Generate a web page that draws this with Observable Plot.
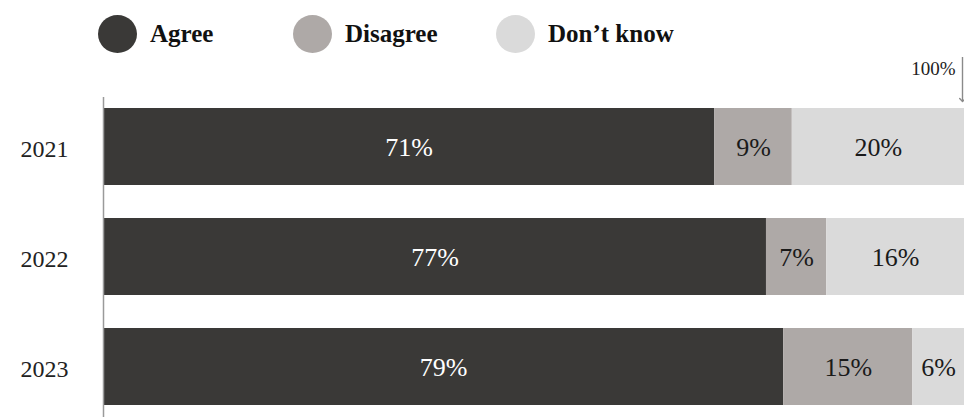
<!DOCTYPE html>
<html>
<head>
<meta charset="utf-8">
<script src="https://cdn.jsdelivr.net/npm/d3@7"></script>
<script src="https://cdn.jsdelivr.net/npm/@observablehq/plot@0.6"></script>
<style>
  body { margin: 0; background: #fff; font-family: "Liberation Serif", serif; }
  #legend { position: relative; width: 964px; height: 55px; }
  .item { position: absolute; top: 15px; height: 38px; display: flex; align-items: center; }
  .dot { width: 39px; height: 38px; border-radius: 50%; margin-right: 13px; }
  .lab { font-weight: bold; font-size: 25px; color: #111; }
</style>
</head>
<body>
<div id="legend"></div>
<div id="chart"></div>
<script>
const years = ["2021", "2022", "2023"];
const categories = ["Agree", "Disagree", "Don\u2019t know"];
const agree = [71, 77, 79];
const disagree = [9, 7, 15];
const dontKnow = [20, 16, 6];
const colors = ["#3a3937", "#aea9a7", "#dadada"];

const series = [agree, disagree, dontKnow];
const data = [];
years.forEach((y, i) => {
  categories.forEach((c, j) => data.push({year: y, category: c, value: series[j][i]}));
});

const legend = document.getElementById("legend");
const legendX = [98, 293, 496];
categories.forEach((c, j) => {
  const it = document.createElement("div");
  it.className = "item";
  it.style.left = legendX[j] + "px";
  it.innerHTML = `<div class="dot" style="background:${colors[j]}"></div><span class="lab">${c}</span>`;
  legend.appendChild(it);
});

const font = "Liberation Serif";
const chart = Plot.plot({
  width: 964,
  height: 362,
  marginLeft: 103,
  marginRight: 0,
  marginTop: 52,
  marginBottom: 10,
  style: {fontFamily: font, background: "#fff"},
  x: {domain: [0, 100], axis: null},
  y: {domain: years, paddingInner: 0.297, paddingOuter: 0, label: null},
  color: {domain: categories, range: colors},
  marks: [
    Plot.barX(data, Plot.stackX({x: "value", y: "year", fill: "category", order: categories})),
    Plot.text(data.filter(d => d.category === "Agree"), Plot.stackX({
      x: "value", y: "year", z: "category", order: categories,
      text: d => d.value + "%", fill: "white", fontSize: 26, fontFamily: font, dy: 1
    })),
    Plot.text(data, Plot.stackX({
      x: "value", y: "year", z: "category", order: categories,
      text: d => d.category === "Agree" ? "" : d.value + "%", fill: "#1a1a1a", fontSize: 26, fontFamily: font, dy: 1
    })),
    Plot.ruleX([0], {stroke: "#9a9a9a", strokeWidth: 1.5, insetTop: -10, insetBottom: -10}),
    Plot.ruleX([100], {stroke: "#8a8a8a", strokeWidth: 1.4, dx: -2, insetTop: -50, insetBottom: 307, markerEnd: "arrow"}),
    Plot.text([100], {x: d => d, frameAnchor: "top", lineAnchor: "middle", dy: -39, dx: -9, textAnchor: "end",
      text: () => "100%", fontSize: 19, fill: "#222", fontFamily: font}),
    Plot.axisY({tickSize: 0, tickPadding: 35, fontSize: 24, fontFamily: font, fill: "#222", dy: 2})
  ]
});
document.getElementById("chart").appendChild(chart);
</script>
</body>
</html>
